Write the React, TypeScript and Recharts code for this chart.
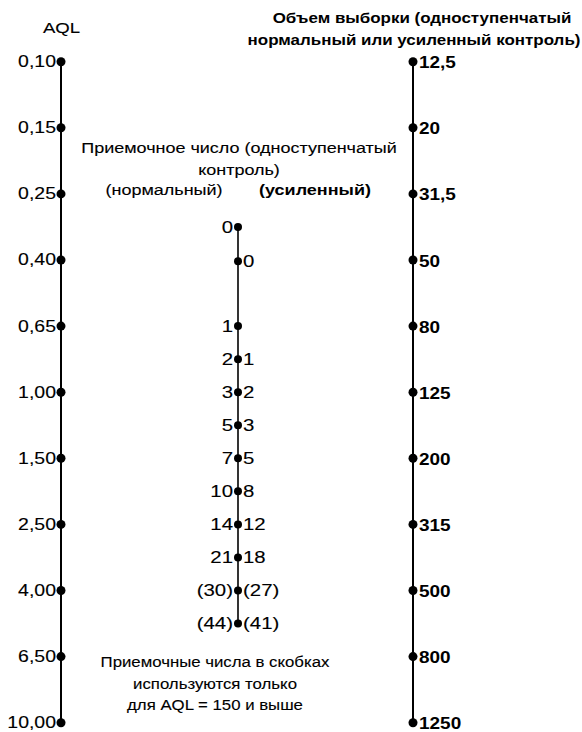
import React from 'react';
import { ScatterChart, Scatter, XAxis, YAxis, ReferenceLine, Customized } from 'recharts';

const aqlLabels = ['0,10', '0,15', '0,25', '0,40', '0,65', '1,00', '1,50', '2,50', '4,00', '6,50', '10,00'];
const sampleSizes = ['12,5', '20', '31,5', '50', '80', '125', '200', '315', '500', '800', '1250'];
const acceptNormal = ['0', '', '1', '2', '3', '5', '7', '10', '14', '21', '(30)', '(44)'];
const acceptTightened = ['', '0', '', '1', '2', '3', '5', '8', '12', '18', '(27)', '(41)'];
const acceptLevels = [2.5, 3.02, 4, 4.5, 5, 5.5, 6, 6.5, 7, 7.5, 8, 8.5];

const W = 582;
const H = 732;
const X_LEFT = 61;
const X_MID = 238;
const X_RIGHT = 413;
const FONT = '"Liberation Sans", Arial, Helvetica, sans-serif';

const aqlData = aqlLabels.map((label, i) => ({ x: X_LEFT, y: i, label }));
const sizeData = sampleSizes.map((label, i) => ({ x: X_RIGHT, y: i, label }));
const acceptData = acceptLevels.map((y, i) => ({ x: X_MID, y, left: acceptNormal[i], right: acceptTightened[i] }));

type TProps = { x: number; y: number; size: number; anchor?: 'start' | 'middle' | 'end'; bold?: boolean; sx?: number; children: React.ReactNode };
const T = ({ x, y, size, anchor = 'middle', bold = false, sx = 1.2, children }: TProps) => (
  <text
    transform={`translate(${x},${y}) scale(${sx},1)`}
    x={0}
    y={0}
    textAnchor={anchor}
    dominantBaseline="central"
    fontSize={size}
    fontWeight={bold ? 'bold' : 'normal'}
    fontFamily={FONT}
    fill="#000"
    stroke={bold ? 'none' : '#000'}
    strokeWidth={bold ? 0 : 0.12}
  >
    {children}
  </text>
);

const LeftLabelDot = (props: any) => {
  const { cx, cy, payload } = props;
  return (
    <g>
      <circle cx={cx} cy={cy} r={4.5} fill="#000" />
      <T x={cx - 5} y={cy} size={16.5} anchor="end" sx={1.18}>{payload.label}</T>
    </g>
  );
};

const RightLabelDot = (props: any) => {
  const { cx, cy, payload } = props;
  return (
    <g>
      <circle cx={cx} cy={cy} r={4.5} fill="#000" />
      <T x={cx + 6} y={cy + 1} size={16.5} anchor="start" bold sx={1.15}>{payload.label}</T>
    </g>
  );
};

const MidDot = (props: any) => {
  const { cx, cy, payload } = props;
  return (
    <g>
      <circle cx={cx} cy={cy} r={4} fill="#000" />
      {payload.left ? <T x={cx - 5} y={cy} size={17} anchor="end" sx={1.2}>{payload.left}</T> : null}
      {payload.right ? <T x={cx + 5} y={cy} size={17} anchor="start" sx={1.2}>{payload.right}</T> : null}
    </g>
  );
};

const Texts = () => (
  <g>
    <T x={61.5} y={28} size={15.5} sx={1.2}>AQL</T>
    <T x={422} y={18} size={15} bold sx={1.13}>Объем выборки (одноступенчатый</T>
    <T x={414} y={40} size={15} bold sx={1.13}>нормальный или усиленный контроль)</T>
    <T x={239} y={148} size={15} sx={1.2}>Приемочное число (одноступенчатый</T>
    <T x={239} y={170} size={15} sx={1.2}>контроль)</T>
    <T x={164} y={190} size={15} sx={1.2}>(нормальный)</T>
    <T x={315} y={190} size={15} bold sx={1.2}>(усиленный)</T>
    <T x={215} y={662} size={15} sx={1.12}>Приемочные числа в скобках</T>
    <T x={215} y={684} size={15} sx={1.12}>используются только</T>
    <T x={215} y={705} size={15} sx={1.12}>для AQL = 150 и выше</T>
  </g>
);

export default function App() {
  const midMin = Math.min(...acceptLevels);
  const midMax = Math.max(...acceptLevels);
  return (
    <div style={{ position: 'absolute', left: 0, top: 0, width: W, height: H, background: '#fff' }}>
      <ScatterChart width={W} height={H} margin={{ top: 61.7, right: 0, bottom: 9.3, left: 0 }}>
        <XAxis type="number" dataKey="x" domain={[0, W]} hide />
        <YAxis type="number" dataKey="y" domain={[0, 10]} reversed hide />
        <ReferenceLine segment={[{ x: X_LEFT, y: 0 }, { x: X_LEFT, y: aqlLabels.length - 1 }]} stroke="#000" strokeWidth={2} />
        <ReferenceLine segment={[{ x: X_RIGHT, y: 0 }, { x: X_RIGHT, y: sampleSizes.length - 1 }]} stroke="#000" strokeWidth={2} />
        <ReferenceLine segment={[{ x: X_MID, y: midMin }, { x: X_MID, y: midMax }]} stroke="#000" strokeWidth={1.6} />
        <Scatter data={aqlData} shape={<LeftLabelDot />} isAnimationActive={false} />
        <Scatter data={sizeData} shape={<RightLabelDot />} isAnimationActive={false} />
        <Scatter data={acceptData} shape={<MidDot />} isAnimationActive={false} />
        <Customized component={Texts} />
      </ScatterChart>
    </div>
  );
}
